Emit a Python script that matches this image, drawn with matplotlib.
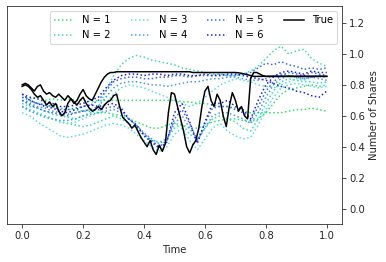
import numpy as np
import matplotlib.pyplot as plt

# time grids
t_true = np.linspace(0, 1, 101)
t_est = np.linspace(0, 1, 41)

true_a = [0.80, 0.81, 0.80, 0.78, 0.76, 0.79, 0.80, 0.76, 0.74, 0.75,
          0.73, 0.72, 0.74, 0.72, 0.70, 0.73, 0.71, 0.68, 0.70, 0.74,
          0.77, 0.73, 0.71, 0.70, 0.74, 0.78, 0.82, 0.85, 0.87, 0.88,
          0.88, 0.885, 0.885, 0.885, 0.885, 0.885, 0.885, 0.885, 0.885, 0.885,
          0.885, 0.885, 0.885, 0.885, 0.885, 0.885, 0.885, 0.885, 0.885, 0.885,
          0.885, 0.885, 0.885, 0.885, 0.885, 0.885, 0.88, 0.88, 0.88, 0.88,
          0.88, 0.88, 0.88, 0.88, 0.88, 0.88, 0.88, 0.88, 0.88, 0.88,
          0.88, 0.878, 0.875, 0.87, 0.865, 0.86, 0.855, 0.855, 0.855, 0.855,
          0.855, 0.855, 0.855, 0.855, 0.855, 0.855, 0.855, 0.855, 0.855, 0.855,
          0.855, 0.855, 0.855, 0.855, 0.855, 0.855, 0.855, 0.855, 0.855, 0.855,
          0.855]

true_b = [0.79, 0.80, 0.79, 0.77, 0.74, 0.72, 0.73, 0.70, 0.67, 0.69,
          0.66, 0.68, 0.63, 0.60, 0.62, 0.68, 0.71, 0.69, 0.67, 0.70,
          0.72, 0.68, 0.65, 0.63, 0.64, 0.66, 0.64, 0.67, 0.69, 0.70,
          0.73, 0.74, 0.66, 0.59, 0.57, 0.55, 0.52, 0.54, 0.50, 0.46,
          0.43, 0.40, 0.44, 0.38, 0.35, 0.41, 0.37, 0.42, 0.62, 0.75,
          0.74, 0.66, 0.58, 0.50, 0.40, 0.36, 0.41, 0.44, 0.52, 0.66,
          0.76, 0.79, 0.70, 0.66, 0.74, 0.70, 0.60, 0.53, 0.66, 0.75,
          0.70, 0.63, 0.66, 0.60, 0.58, 0.84, 0.88, 0.88, 0.87, 0.86,
          0.855, 0.855, 0.855, 0.855, 0.855, 0.855, 0.855, 0.855, 0.855, 0.855,
          0.855, 0.855, 0.855, 0.855, 0.855, 0.855, 0.855, 0.855, 0.855, 0.855,
          0.855]

# estimates, upper share (a) and lower share (b), for N = 1..6
est_a = {
    1: [0.72, 0.71, 0.72, 0.70, 0.71, 0.70, 0.71, 0.70, 0.70, 0.69, 0.70, 0.70, 0.70, 0.70,
        0.70, 0.70, 0.70, 0.70, 0.70, 0.70, 0.70, 0.69, 0.69, 0.68, 0.68, 0.67, 0.66, 0.66,
        0.65, 0.63, 0.62, 0.62, 0.62, 0.62, 0.62, 0.63, 0.64, 0.64, 0.65, 0.64, 0.63],
    2: [0.68, 0.66, 0.65, 0.63, 0.61, 0.60, 0.59, 0.58, 0.60, 0.62, 0.66, 0.76, 0.86, 0.93,
        0.97, 0.99, 0.98, 0.96, 0.95, 0.94, 0.93, 0.91, 0.90, 0.89, 0.88, 0.87, 0.87, 0.86,
        0.86, 0.87, 0.89, 0.92, 0.97, 1.02, 1.05, 1.00, 1.02, 1.03, 0.97, 0.94, 0.92],
    3: [0.66, 0.64, 0.62, 0.60, 0.58, 0.56, 0.55, 0.56, 0.58, 0.60, 0.62, 0.68, 0.74, 0.78,
        0.80, 0.79, 0.78, 0.76, 0.74, 0.72, 0.70, 0.68, 0.66, 0.68, 0.72, 0.76, 0.80, 0.82,
        0.84, 0.83, 0.82, 0.80, 0.79, 0.78, 0.80, 0.82, 0.84, 0.83, 0.85, 0.86, 0.87],
    4: [0.70, 0.68, 0.66, 0.65, 0.63, 0.62, 0.61, 0.62, 0.63, 0.64, 0.66, 0.72, 0.78, 0.81,
        0.82, 0.82, 0.81, 0.80, 0.80, 0.79, 0.80, 0.81, 0.82, 0.82, 0.83, 0.84, 0.84, 0.85,
        0.85, 0.84, 0.83, 0.83, 0.84, 0.86, 0.87, 0.86, 0.85, 0.84, 0.85, 0.86, 0.85],
    5: [0.72, 0.70, 0.68, 0.67, 0.66, 0.64, 0.64, 0.65, 0.66, 0.67, 0.70, 0.76, 0.82, 0.84,
        0.85, 0.85, 0.84, 0.84, 0.85, 0.85, 0.86, 0.86, 0.85, 0.86, 0.86, 0.86, 0.87, 0.86,
        0.86, 0.87, 0.88, 0.91, 0.94, 0.93, 0.95, 0.93, 0.92, 0.90, 0.91, 0.90, 0.91],
    6: [0.74, 0.72, 0.71, 0.69, 0.68, 0.66, 0.66, 0.67, 0.68, 0.70, 0.72, 0.78, 0.83, 0.86,
        0.87, 0.87, 0.86, 0.87, 0.87, 0.86, 0.87, 0.87, 0.86, 0.86, 0.87, 0.86, 0.86, 0.87,
        0.87, 0.86, 0.85, 0.84, 0.83, 0.81, 0.79, 0.78, 0.76, 0.75, 0.73, 0.72, 0.76],
}

est_b = {
    1: [0.70, 0.69, 0.68, 0.67, 0.66, 0.65, 0.64, 0.64, 0.63, 0.63, 0.62, 0.62, 0.61, 0.60,
        0.58, 0.56, 0.54, 0.52, 0.52, 0.54, 0.55, 0.54, 0.52, 0.52, 0.54, 0.56, 0.57, 0.58,
        0.58, 0.57, 0.56, 0.58, 0.62, 0.68, 0.74, 0.77, 0.78, 0.79, 0.80, 0.79, 0.80],
    2: [0.66, 0.64, 0.62, 0.60, 0.58, 0.56, 0.55, 0.54, 0.53, 0.54, 0.56, 0.58, 0.60, 0.58,
        0.55, 0.52, 0.48, 0.44, 0.43, 0.45, 0.52, 0.55, 0.48, 0.45, 0.52, 0.58, 0.60, 0.58,
        0.56, 0.52, 0.50, 0.58, 0.68, 0.76, 0.82, 0.84, 0.83, 0.82, 0.82, 0.81, 0.82],
    3: [0.62, 0.60, 0.56, 0.53, 0.50, 0.47, 0.46, 0.47, 0.48, 0.50, 0.52, 0.54, 0.55, 0.54,
        0.52, 0.48, 0.44, 0.40, 0.37, 0.40, 0.48, 0.52, 0.44, 0.38, 0.45, 0.52, 0.55, 0.50,
        0.47, 0.45, 0.46, 0.54, 0.64, 0.72, 0.78, 0.80, 0.81, 0.80, 0.79, 0.78, 0.79],
    4: [0.66, 0.63, 0.61, 0.59, 0.58, 0.57, 0.57, 0.58, 0.60, 0.61, 0.62, 0.63, 0.64, 0.62,
        0.58, 0.54, 0.49, 0.45, 0.42, 0.45, 0.55, 0.60, 0.52, 0.44, 0.52, 0.60, 0.62, 0.62,
        0.60, 0.58, 0.55, 0.62, 0.72, 0.80, 0.84, 0.86, 0.85, 0.84, 0.85, 0.84, 0.83],
    5: [0.70, 0.67, 0.65, 0.63, 0.62, 0.61, 0.60, 0.62, 0.63, 0.64, 0.64, 0.65, 0.66, 0.64,
        0.58, 0.54, 0.48, 0.44, 0.40, 0.44, 0.58, 0.64, 0.55, 0.44, 0.55, 0.65, 0.66, 0.66,
        0.64, 0.62, 0.57, 0.66, 0.76, 0.82, 0.86, 0.88, 0.87, 0.86, 0.88, 0.87, 0.86],
    6: [0.74, 0.70, 0.68, 0.66, 0.65, 0.63, 0.62, 0.64, 0.66, 0.67, 0.66, 0.67, 0.68, 0.65,
        0.58, 0.54, 0.47, 0.43, 0.39, 0.43, 0.62, 0.68, 0.56, 0.42, 0.56, 0.68, 0.68, 0.70,
        0.66, 0.64, 0.58, 0.70, 0.80, 0.85, 0.88, 0.89, 0.88, 0.87, 0.89, 0.88, 0.88],
}

colors = {1: "#33dd66", 2: "#33ddaa", 3: "#55dddd", 4: "#4499ee", 5: "#3366ee", 6: "#1a1aee"}

fig = plt.figure(figsize=(386 / 72, 262 / 72), dpi=72)
ax = fig.add_axes([0.018, 0.145, 0.868, 0.832])

for n in range(1, 7):
    ax.plot(t_est, est_a[n], ":", color=colors[n], lw=1.5, label=f"N = {n}")
    ax.plot(t_est, est_b[n], ":", color=colors[n], lw=1.5)

ax.plot(t_true, true_a, "-", color="black", lw=1.5, label="True")
ax.plot(t_true, true_b, "-", color="black", lw=1.5)

ax.set_ylim(-0.1, 1.31)
ax.set_xlim(-0.05, 1.05)
ax.set_yticks([0.0, 0.2, 0.4, 0.6, 0.8, 1.0, 1.2])
ax.set_xticks([0.0, 0.2, 0.4, 0.6, 0.8, 1.0])
ax.yaxis.tick_right()
ax.yaxis.set_label_position("right")
ax.set_xlabel("Time", color="#262626")
ax.set_ylabel("Number of Shares", color="#262626")
ax.tick_params(colors="#262626")
for s in ax.spines.values():
    s.set_color("#262626")

ax.legend(ncol=4, loc="upper right")

fig.savefig("out.png", dpi=72)
